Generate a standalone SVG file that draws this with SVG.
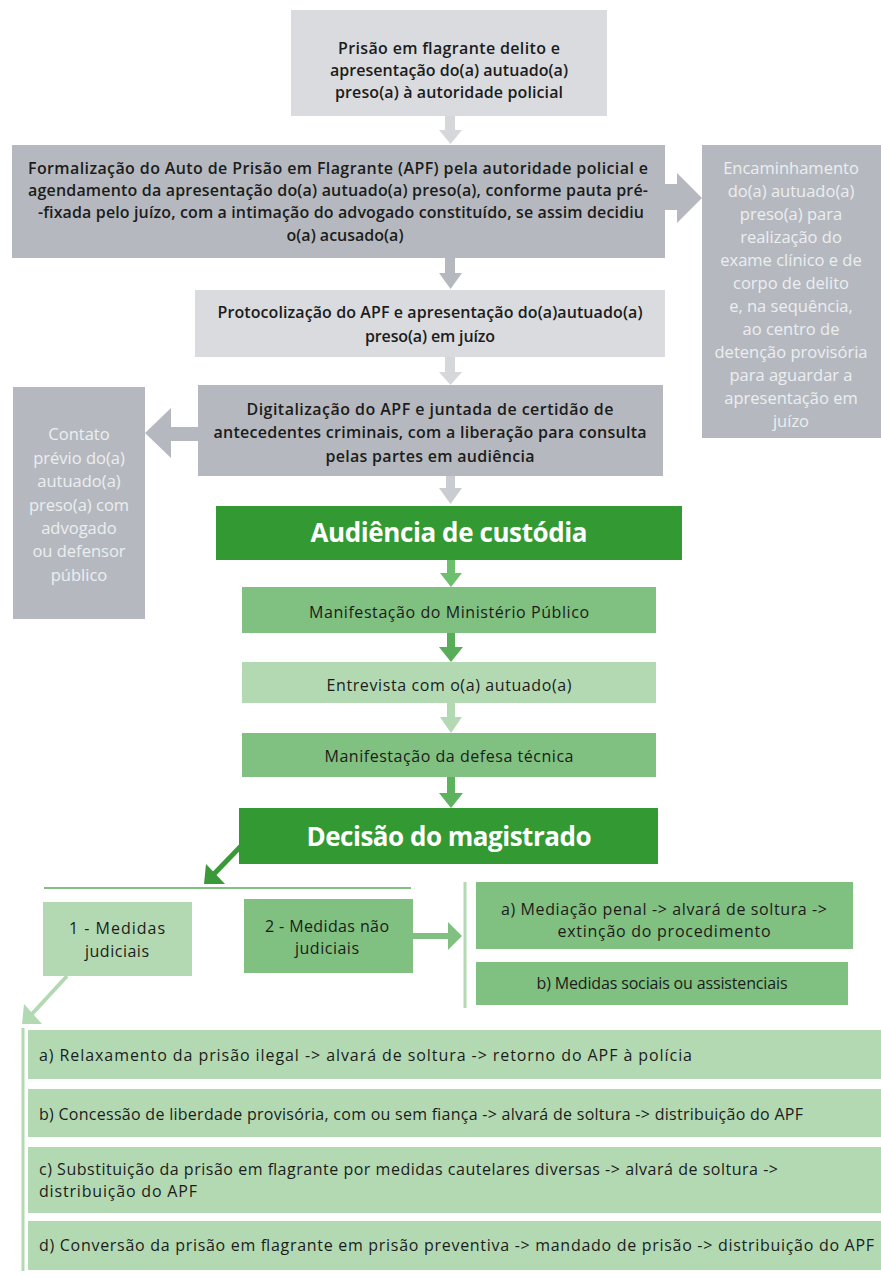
<svg xmlns="http://www.w3.org/2000/svg" width="881" height="1277" viewBox="0 0 881 1277">
<style>
text{font-family:"Open Sans","Liberation Sans",sans-serif;font-size:16px;fill:#1c1c1c}
.c{text-anchor:middle}
.b{font-weight:600}
.side{font-size:16.5px;fill:#eceef1;text-anchor:middle}
.title{font-size:26px;font-weight:700;fill:#ffffff;text-anchor:middle}
.lg{fill:#d9dbde}
.mg{fill:#b5b9bf}
.dg{fill:#339933}
.mgr{fill:#80c080}
.lgr{fill:#b3d9b3}
</style>
<rect width="881" height="1277" fill="#ffffff"/>
<g id="connectors">
  <g fill="#d5d7da"><rect x="445" y="116" width="10" height="15"/><polygon points="439,130 462,130 450.5,144"/></g>
  <g fill="#b5b9bf"><rect x="445" y="258" width="10" height="16"/><polygon points="439,273 462,273 450.5,289"/></g>
  <g fill="#d5d7da"><rect x="445" y="357" width="10" height="16"/><polygon points="439,372 462,372 450.5,385"/></g>
  <g fill="#c9ccd0"><rect x="446" y="476" width="9" height="13"/><polygon points="439,488 462,488 450.5,504"/></g>
  <g fill="#b5b9bf"><rect x="664" y="184" width="14" height="26"/><polygon points="677,173 677,223 702,198"/></g>
  <g fill="#b5b9bf"><rect x="169" y="427" width="30" height="14"/><polygon points="171,408 171,458 145,433"/></g>
  <g fill="#6cbf6c"><rect x="447" y="560" width="8" height="14"/><polygon points="440,573 462,573 451,587"/></g>
  <g fill="#58ad58"><rect x="447" y="633" width="8" height="15"/><polygon points="439,647 463,647 451,662"/></g>
  <g fill="#b3d9b3"><rect x="447" y="703" width="8" height="15"/><polygon points="440,717 462,717 451,733"/></g>
  <g fill="#5db35d"><rect x="447" y="777" width="8" height="17"/><polygon points="439,793 463,793 451,808"/></g>
  <g><line x1="241" y1="846" x2="214" y2="874" stroke="#3a9a3a" stroke-width="5"/><polygon points="204,884 225,884 206,864" fill="#3a9a3a"/></g>
  <line x1="44" y1="888" x2="411" y2="888" stroke="#80c080" stroke-width="2"/>
  <g fill="#80c080"><rect x="413" y="933" width="37" height="6"/><polygon points="448,922 448,950 462,936"/></g>
  <line x1="465" y1="882" x2="465" y2="1008" stroke="#b3d9b3" stroke-width="3"/>
  <g><line x1="67" y1="976" x2="32" y2="1014" stroke="#b3d9b3" stroke-width="4"/><polygon points="22,1024 42,1024 24,1004" fill="#b3d9b3"/></g>
  <line x1="23" y1="1028" x2="23" y2="1271" stroke="#b3d9b3" stroke-width="3"/>
</g>

<g id="n1"><rect class="lg" x="291" y="10" width="316" height="106"/>
<text class="c b" x="449" y="54" textLength="222">Prisão em flagrante delito e</text>
<text class="c b" x="449" y="76" textLength="238">apresentação do(a) autuado(a)</text>
<text class="c b" x="449" y="98" textLength="228">preso(a) à autoridade policial</text></g>

<g id="n2"><rect class="mg" x="12" y="145" width="653" height="113"/>
<text class="c b" x="338" y="174" textLength="620">Formalização do Auto de Prisão em Flagrante (APF) pela autoridade policial e</text>
<text class="c b" x="338" y="196" textLength="620">agendamento da apresentação do(a) autuado(a) preso(a), conforme pauta pré-</text>
<text class="c b" x="341" y="218" textLength="606">-fixada pelo juízo, com a intimação do advogado constituído, se assim decidiu</text>
<text class="c b" x="345" y="241">o(a) acusado(a)</text></g>

<g id="n_exame"><rect class="mg" x="702" y="145" width="179" height="293"/>
<text class="side" x="791" y="174">Encaminhamento</text>
<text class="side" x="791" y="197">do(a) autuado(a)</text>
<text class="side" x="791" y="220">preso(a) para</text>
<text class="side" x="791" y="243">realização do</text>
<text class="side" x="791" y="266">exame clínico e de</text>
<text class="side" x="791" y="289">corpo de delito</text>
<text class="side" x="791" y="312">e, na sequência,</text>
<text class="side" x="791" y="335">ao centro de</text>
<text class="side" x="791" y="358">detenção provisória</text>
<text class="side" x="791" y="381">para aguardar a</text>
<text class="side" x="791" y="404">apresentação em</text>
<text class="side" x="791" y="427">juízo</text></g>

<g id="n3"><rect class="lg" x="195" y="290" width="470" height="67"/>
<text class="c b" x="430" y="318" textLength="425">Protocolização do APF e apresentação do(a)autuado(a)</text>
<text class="c b" x="430" y="342" textLength="130">preso(a) em juízo</text></g>

<g id="n4"><rect class="mg" x="198" y="385" width="465" height="91"/>
<text class="c b" x="430" y="415" textLength="367">Digitalização do APF e juntada de certidão de</text>
<text class="c b" x="430" y="438" textLength="433">antecedentes criminais, com a liberação para consulta</text>
<text class="c b" x="430" y="462" textLength="209">pelas partes em audiência</text></g>

<g id="n_contato"><rect class="mg" x="13" y="387" width="132" height="232"/>
<text class="side" x="79" y="440">Contato</text>
<text class="side" x="79" y="464">prévio do(a)</text>
<text class="side" x="79" y="487">autuado(a)</text>
<text class="side" x="79" y="511">preso(a) com</text>
<text class="side" x="79" y="534">advogado</text>
<text class="side" x="79" y="557">ou defensor</text>
<text class="side" x="79" y="581">público</text></g>

<g id="n_audiencia"><rect class="dg" x="216" y="506" width="466" height="54"/>
<text class="title" x="449" y="542" textLength="277">Audiência de custódia</text></g>

<g id="n_mp"><rect class="mgr" x="242" y="587" width="414" height="46"/>
<text class="c" x="449" y="618" textLength="280">Manifestação do Ministério Público</text></g>

<g id="n_entrevista"><rect class="lgr" x="242" y="662" width="414" height="41"/>
<text class="c" x="449" y="691" textLength="245">Entrevista com o(a) autuado(a)</text></g>

<g id="n_defesa"><rect class="mgr" x="242" y="733" width="414" height="44"/>
<text class="c" x="449" y="762" textLength="249">Manifestação da defesa técnica</text></g>

<g id="n_decisao"><rect class="dg" x="239" y="808" width="419" height="56"/>
<text class="title" x="449" y="846" textLength="285">Decisão do magistrado</text></g>

<g id="n_judiciais"><rect class="lgr" x="43" y="902" width="149" height="74"/>
<text class="c" x="117" y="934" textLength="96">1 - Medidas</text>
<text class="c" x="117" y="957" textLength="64">judiciais</text></g>

<g id="n_naojudiciais"><rect class="mgr" x="244" y="899" width="169" height="74"/>
<text class="c" x="327" y="932" textLength="124">2 - Medidas não</text>
<text class="c" x="327" y="954" textLength="64">judiciais</text></g>

<g id="n_mediacao"><rect class="mgr" x="476" y="882" width="377" height="67"/>
<text class="c" x="664" y="915" textLength="326">a) Mediação penal -&gt; alvará de soltura -&gt;</text>
<text class="c" x="664" y="937" textLength="213">extinção do procedimento</text></g>

<g id="n_sociais"><rect class="mgr" x="476" y="962" width="372" height="43"/>
<text class="c" x="662" y="989" textLength="251">b) Medidas sociais ou assistenciais</text></g>

<g id="n_ja"><rect class="lgr" x="28" y="1030" width="853" height="49"/>
<text x="39" y="1061" textLength="653">a) Relaxamento da prisão ilegal -&gt; alvará de soltura -&gt; retorno do APF à polícia</text></g>

<g id="n_jb"><rect class="lgr" x="28" y="1089" width="853" height="48"/>
<text x="39" y="1120" textLength="764">b) Concessão de liberdade provisória, com ou sem fiança -&gt; alvará de soltura -&gt; distribuição do APF</text></g>

<g id="n_jc"><rect class="lgr" x="28" y="1147" width="853" height="66"/>
<text x="39" y="1175" textLength="739">c) Substituição da prisão em flagrante por medidas cautelares diversas -&gt; alvará de soltura -&gt;</text>
<text x="39" y="1197" textLength="158">distribuição do APF</text></g>

<g id="n_jd"><rect class="lgr" x="28" y="1221" width="853" height="49"/>
<text x="39" y="1251" textLength="835">d) Conversão da prisão em flagrante em prisão preventiva -&gt; mandado de prisão -&gt; distribuição do APF</text></g>
</svg>
